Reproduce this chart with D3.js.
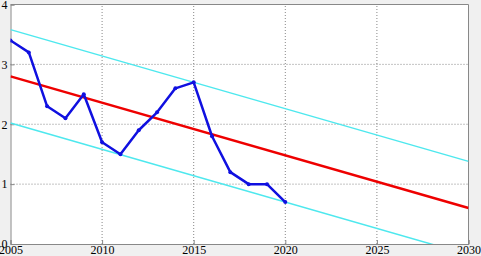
<!DOCTYPE html>
<html><head><meta charset="utf-8">
<script src="https://cdn.jsdelivr.net/npm/d3@7"></script>
<style>body{margin:0;background:#f0f0f0}</style>
</head><body>
<script>
const years = [2005,2006,2007,2008,2009,2010,2011,2012,2013,2014,2015,2016,2017,2018,2019,2020];
const values = [3.4,3.2,2.3,2.1,2.5,1.7,1.5,1.9,2.2,2.6,2.7,1.8,1.2,1.0,1.0,0.7];
const trendX = [2005,2030];
const trendY = [2.8,0.6];
const upperY = [3.58,1.38];
const lowerY = [2.02,-0.18];
const xTicks = [2005,2010,2015,2020,2025,2030];
const yTicks = [0,1,2,3,4];

const W=481,H=256;
const svg=d3.select("body").append("svg").attr("width",W).attr("height",H);
svg.append("rect").attr("width",W).attr("height",H).attr("fill","#f0f0f0");
const x=d3.scaleLinear().domain([2005,2030]).range([10.5,468.5]);
const y=d3.scaleLinear().domain([0,4]).range([244,4.5]);
svg.append("defs").append("clipPath").attr("id","c").append("rect")
  .attr("x",x(2005)).attr("y",y(4)).attr("width",x(2030)-x(2005)).attr("height",y(0)-y(4));
svg.append("rect").attr("x",x(2005)).attr("y",y(4)).attr("width",x(2030)-x(2005)).attr("height",y(0)-y(4)).attr("fill","#fff");
const g=svg.append("g");
// grid
g.selectAll(".gx").data(xTicks.slice(1,-1)).join("line").attr("x1",d=>x(d)).attr("x2",d=>x(d)).attr("y1",y(0)).attr("y2",y(4))
 .attr("stroke","#555").attr("stroke-width",0.7).attr("stroke-dasharray","1,2");
g.selectAll(".gy").data(yTicks.slice(1,-1)).join("line").attr("y1",d=>y(d)).attr("y2",d=>y(d)).attr("x1",x(2005)).attr("x2",x(2030))
 .attr("stroke","#555").attr("stroke-width",0.7).attr("stroke-dasharray","1,2");
// axes
const xa=d3.axisBottom(x).tickValues(xTicks).tickSize(-4).tickFormat(d3.format("d"));
const ya=d3.axisLeft(y).tickValues(yTicks).tickSize(-4).tickFormat(d3.format("d"));
const gx=svg.append("g").attr("transform",`translate(0,${y(0)})`).call(xa);
const gy=svg.append("g").attr("transform",`translate(${x(2005)},0)`).call(ya);
[gx,gy].forEach(a=>{a.select(".domain").attr("stroke","#888");a.selectAll(".tick line").attr("stroke","#888");
 a.selectAll("text").attr("font-family","Liberation Serif, serif").attr("font-size",12).attr("fill","#000");});
gx.selectAll("text").attr("dy","0.55em").attr("y",3);
gy.selectAll("text").attr("x",-3).attr("dy","0.32em");
// top/right border
svg.append("line").attr("x1",x(2005)).attr("x2",x(2030)).attr("y1",y(4)).attr("y2",y(4)).attr("stroke","#888");
svg.append("line").attr("x1",x(2030)).attr("x2",x(2030)).attr("y1",y(4)).attr("y2",y(0)).attr("stroke","#888");
// lines
const pg=svg.append("g").attr("clip-path","url(#c)");
const ln=d3.line().x(d=>x(d[0])).y(d=>y(d[1]));
pg.append("path").attr("d",ln(d3.zip(trendX,upperY))).attr("stroke","#4ee8ee").attr("stroke-width",1.5).attr("fill","none");
pg.append("path").attr("d",ln(d3.zip(trendX,lowerY))).attr("stroke","#4ee8ee").attr("stroke-width",1.5).attr("fill","none");
pg.append("path").attr("d",ln(d3.zip(trendX,trendY))).attr("stroke","#ee0000").attr("stroke-width",2.5).attr("fill","none");
pg.append("path").attr("d",ln(d3.zip(years,values))).attr("stroke","#1010e0").attr("stroke-width",2.5).attr("fill","none").attr("stroke-linejoin","round");
pg.selectAll(".pt").data(d3.zip(years,values)).join("circle").attr("cx",d=>x(d[0])).attr("cy",d=>y(d[1])).attr("r",2).attr("fill","#1010e0");
</script>
</body></html>
